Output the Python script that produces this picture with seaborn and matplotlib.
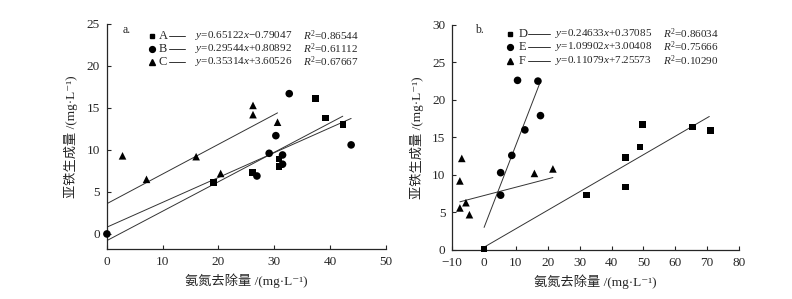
import numpy as np
import pandas as pd
import matplotlib
matplotlib.use("Agg")
import matplotlib.pyplot as plt
import seaborn as sns

font = 8

# panel a: A (squares), B (circles), C (triangles)
ax_a = [19.1, 26.1, 30.9, 30.9, 37.4, 39.2, 42.3]
ay_a = [6.1, 7.3, 8.0, 8.9, 16.1, 13.8, 13.0]
bx_a = [0.0, 26.9, 29.1, 30.3, 31.5, 31.5, 32.7, 43.8]
by_a = [0.0, 6.9, 9.6, 11.7, 9.4, 8.3, 16.7, 10.6]
cx_a = [2.8, 7.1, 16.0, 20.4, 26.2, 26.2, 30.6]
cy_a = [9.3, 6.5, 9.2, 7.2, 15.3, 14.2, 13.3]

# panel b: D (squares), E (circles), F (triangles)
dx_b = [0.0, 32.1, 44.4, 44.4, 49.0, 49.7, 65.4, 71.0]
dy_b = [0.1, 7.3, 8.4, 12.3, 13.7, 16.7, 16.4, 15.9]
ex_b = [5.2, 5.2, 8.7, 10.5, 12.8, 16.9, 17.7]
ey_b = [10.3, 7.3, 12.6, 22.6, 16.0, 22.5, 17.9]
fx_b = [-7.6, -7.6, -7.0, -5.7, -4.6, 15.8, 21.6]
fy_b = [5.6, 9.2, 12.2, 6.3, 4.7, 10.2, 10.8]

# fitted lines as drawn (slope, intercept, x start, x end)
fit_a = {"A": (0.350, -0.79047, 0, 42.3), "B": (0.29544, 0.80892, 0, 43.8), "C": (0.35314, 3.60526, 0, 30.6)}
fit_b = {"D": (0.24633, 0.37085, 0, 70.7), "E": (1.09902, 3.00408, 0, 17.5), "F": (0.11079, 7.25573, -7.6, 21.6)}

eq_a = [r"$y$=0.65122$x$−0.79047", r"$y$=0.29544$x$+0.80892", r"$y$=0.35314$x$+3.60526"]
r2_a = [r"$R^2$=0.86544", r"$R^2$=0.61112", r"$R^2$=0.67667"]
eq_b = [r"$y$=0.24633$x$+0.37085", r"$y$=1.09902$x$+3.00408", r"$y$=0.11079$x$+7.25573"]
r2_b = [r"$R^2$=0.86034", r"$R^2$=0.75666", r"$R^2$=0.10290"]

xlab = '氨氮去除量 /(mg·L⁻¹)'
ylab = '亚铁生成量 /(mg·L⁻¹)'

sns.set_theme(style="ticks")
plt.rcParams['font.family'] = ['Liberation Serif', 'Noto Sans CJK SC', 'DejaVu Serif']
plt.rcParams['mathtext.fontset'] = 'custom'
plt.rcParams['mathtext.rm'] = 'Liberation Serif'
plt.rcParams['mathtext.it'] = 'Liberation Serif:italic'
plt.rcParams['axes.unicode_minus'] = True

msize = {'s': 22, 'o': 30, '^': 30}

def makeDf(groups):
	rows = []
	for name, xs, ys, m in groups:
		for x, y in zip(xs, ys):
			rows.append((name, x, y, m))
	return pd.DataFrame(rows, columns=['grp', 'x', 'y', 'm'])

def drawPanel(ax, df, fits, names, eqs, r2s, tag, pos):
	for m in ['s', 'o', '^']:
		sub = df[df['m'] == m]
		sns.scatterplot(data=sub, x='x', y='y', marker=m, color='black', s=msize[m],
						edgecolor='none', ax=ax, legend=False, zorder=3, clip_on=False)
	for k, (sl, b, x0, x1) in fits.items():
		xs = np.array([x0, x1])
		ax.plot(xs, sl * xs + b, color='#333333', lw=0.7, zorder=2)
	mx, lx, l0, l1, ex, rx, rows, tx = pos
	for i, m in enumerate(['s', 'o', '^']):
		yy = rows[i]
		ax.plot([mx], [yy], marker=m, color='black', ms=3.5 if m == 's' else 4.2, transform=ax.transAxes, clip_on=False)
		ax.text(lx, yy, names[i], transform=ax.transAxes, va='center', ha='left', fontsize=font + 1)
		ax.plot([l0, l1], [yy, yy], color='#333333', lw=0.7, transform=ax.transAxes)
		ax.text(ex, yy, eqs[i], transform=ax.transAxes, va='center', ha='left', fontsize=font)
		ax.text(rx, yy, r2s[i], transform=ax.transAxes, va='center', ha='left', fontsize=font)
	ax.text(tx, 0.975, tag, transform=ax.transAxes, va='center', ha='left', fontsize=font + 0.5)
	ax.tick_params(direction='in', length=3, width=0.8, labelsize=9.5)
	ax.tick_params(axis='y', pad=5)
	ax.tick_params(axis='x', pad=5)
	for s in ['left', 'bottom']:
		ax.spines[s].set_linewidth(0.9)
	sns.despine(ax=ax)
	ax.set_xlabel(xlab, fontsize=9.5, labelpad=4)
	ax.set_ylabel(ylab, fontsize=9.5, labelpad=6)

fig = plt.figure(figsize=(7.92, 2.99), dpi=100)
axa = fig.add_axes([0.135, 0.167, 0.352, 0.753])
axb = fig.add_axes([0.571, 0.164, 0.362, 0.753])

dfa = makeDf([('A', ax_a, ay_a, 's'), ('B', bx_a, by_a, 'o'), ('C', cx_a, cy_a, '^')])
dfb = makeDf([('D', dx_b, dy_b, 's'), ('E', ex_b, ey_b, 'o'), ('F', fx_b, fy_b, '^')])

drawPanel(axa, dfa, fit_a, ['A', 'B', 'C'], eq_a, r2_a, 'a.',
		  (0.161, 0.185, 0.222, 0.28, 0.315, 0.703, [0.947, 0.889, 0.831], 0.057))
axa.set_xlim(0, 50)
axa.set_ylim(-1.8, 25)
axa.set_xticks(range(0, 51, 10))
axa.set_yticks(range(0, 26, 5))

drawPanel(axb, dfb, fit_b, ['D', 'E', 'F'], eq_b, r2_b, 'b.',
		  (0.202, 0.232, 0.265, 0.341, 0.359, 0.735, [0.96, 0.902, 0.84], 0.08))
axb.set_xlim(-10, 80)
axb.set_ylim(0, 30)
axb.set_xticks(range(-10, 81, 10))
axb.set_yticks(range(0, 31, 5))

fig.savefig('out.png', dpi=100)
